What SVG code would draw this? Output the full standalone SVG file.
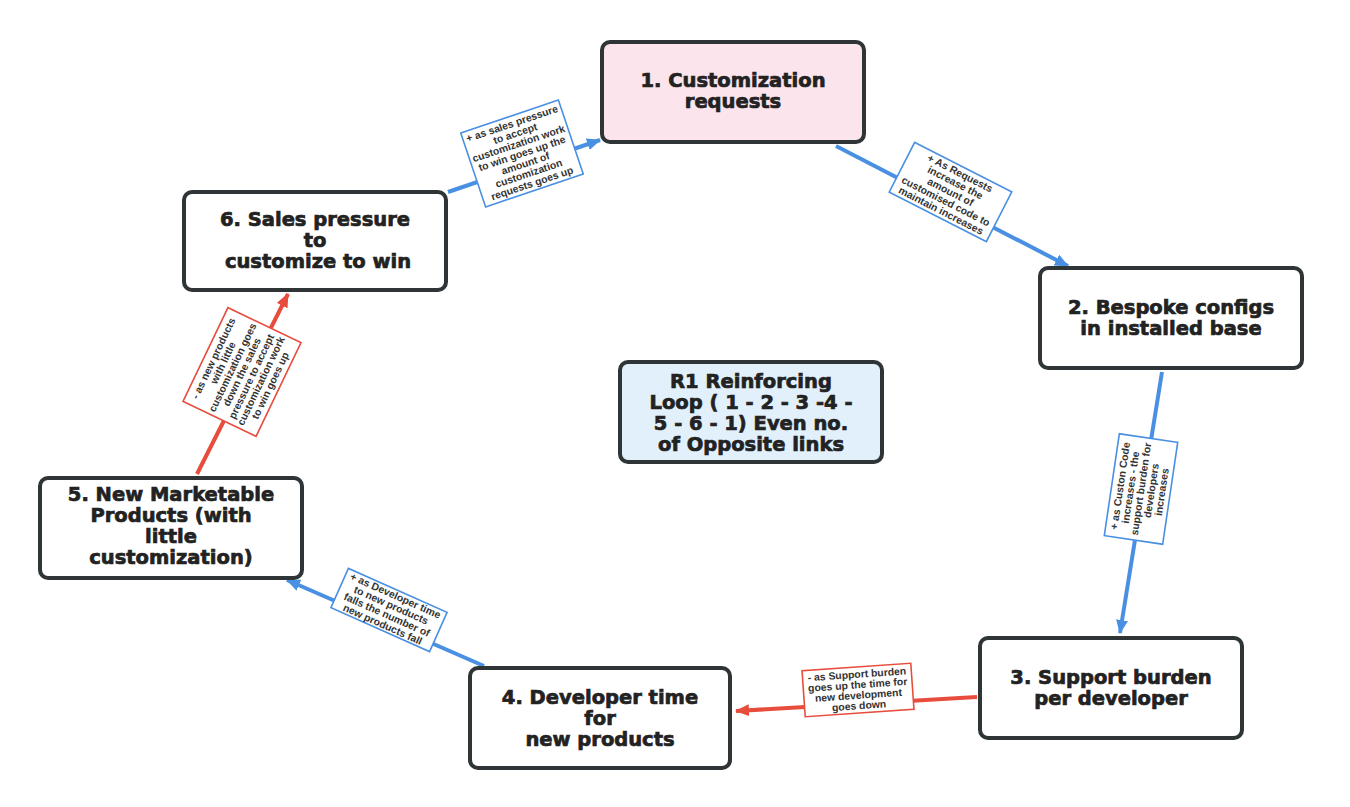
<svg xmlns="http://www.w3.org/2000/svg" width="1350" height="807" viewBox="0 0 1350 807">
<defs>
<style>
.node{fill:#ffffff;stroke:#2f3437;stroke-width:4}
.nt{font-family:"DejaVu Sans","Liberation Sans",sans-serif;font-weight:bold;font-size:19.5px;fill:#222;stroke:#222;stroke-width:0.7;text-anchor:middle}
.lb{fill:#ffffff;stroke-width:1.6}
.lbb{stroke:#4a90e2}
.lbr{stroke:#e74c3c}
.lt{font-family:"Liberation Sans",Arial,sans-serif;font-weight:bold;font-size:10.4px;fill:#333;text-anchor:middle}
.cb{stroke:#4a90e2;stroke-width:4;fill:none}
.cr{stroke:#e74c3c;stroke-width:4;fill:none}
</style>
<marker id="ab" markerUnits="userSpaceOnUse" markerWidth="14" markerHeight="12" refX="13" refY="6" orient="auto"><path d="M0,0 L14,6 L0,12 z" fill="#4a90e2"/></marker>
<marker id="ar" markerUnits="userSpaceOnUse" markerWidth="14" markerHeight="12" refX="13" refY="6" orient="auto"><path d="M0,0 L14,6 L0,12 z" fill="#e74c3c"/></marker>
</defs>
<rect width="1350" height="807" fill="#ffffff"/>
<g id="connectors">
<line class="cb" x1="836" y1="146" x2="1068" y2="266" marker-end="url(#ab)"/>
<line class="cb" x1="1162" y1="372" x2="1120" y2="633" marker-end="url(#ab)"/>
<line class="cr" x1="977" y1="697" x2="736" y2="711" marker-end="url(#ar)"/>
<line class="cb" x1="484" y1="666" x2="287" y2="580" marker-end="url(#ab)"/>
<line class="cr" x1="197" y1="474" x2="288" y2="294" marker-end="url(#ar)"/>
<line class="cb" x1="448" y1="192" x2="600" y2="140" marker-end="url(#ab)"/>
</g>
<g id="labels">
<g id="l61" transform="translate(522,153.5) rotate(-18.6)">
<rect class="lb lbb" x="-51.5" y="-39" width="103" height="78"/>
<text class="lt" y="-28"><tspan x="0">+ as sales pressure</tspan><tspan x="0" dy="10.5">to accept</tspan><tspan x="0" dy="10.5">customization work</tspan><tspan x="0" dy="10.5">to win goes up the</tspan><tspan x="0" dy="10.5">amount of</tspan><tspan x="0" dy="10.5">customization</tspan><tspan x="0" dy="10.5">requests goes up</tspan></text>
</g>
<g id="l12" transform="translate(950.5,192) rotate(27)">
<rect class="lb lbb" x="-54.5" y="-28" width="109" height="56"/>
<text class="lt" y="-17.5"><tspan x="0">+ As Requests</tspan><tspan x="0" dy="10.5">increase the</tspan><tspan x="0" dy="10.5">amount of</tspan><tspan x="0" dy="10.5">customised code to</tspan><tspan x="0" dy="10.5">maintain increases</tspan></text>
</g>
<g id="l23" transform="translate(1141,489) rotate(-81.6)">
<rect class="lb lbb" x="-51.5" y="-29.5" width="103" height="59"/>
<text class="lt" y="-17.5"><tspan x="0">+ as Custon Code</tspan><tspan x="0" dy="10.5">increases - the</tspan><tspan x="0" dy="10.5">support burden for</tspan><tspan x="0" dy="10.5">developers</tspan><tspan x="0" dy="10.5">increases</tspan></text>
</g>
<g id="l34" transform="translate(858,690) rotate(-4)">
<rect class="lb lbr" x="-54.5" y="-23" width="109" height="46"/>
<text class="lt" y="-12.2"><tspan x="0">- as Support burden</tspan><tspan x="0" dy="10.5">goes up the time for</tspan><tspan x="0" dy="10.5">new development</tspan><tspan x="0" dy="10.5">goes down</tspan></text>
</g>
<g id="l45" transform="translate(389,610) rotate(24)">
<rect class="lb lbb" x="-54" y="-21.5" width="108" height="43"/>
<text class="lt" y="-12.2"><tspan x="0">+ as Developer time</tspan><tspan x="0" dy="10.5">to new products</tspan><tspan x="0" dy="10.5">falls the number of</tspan><tspan x="0" dy="10.5">new products fall</tspan></text>
</g>
<g id="l56" transform="translate(242,372) rotate(-64.4)">
<rect class="lb lbr" x="-52" y="-40.5" width="104" height="81"/>
<text class="lt" y="-28"><tspan x="0">- as new products</tspan><tspan x="0" dy="10.5">with little</tspan><tspan x="0" dy="10.5">customization goes</tspan><tspan x="0" dy="10.5">down the sales</tspan><tspan x="0" dy="10.5">pressure to accept</tspan><tspan x="0" dy="10.5">customization work</tspan><tspan x="0" dy="10.5">to win goes up</tspan></text>
</g>
</g>
<g id="node1">
<rect class="node" x="602" y="42" width="262" height="100" rx="8" style="fill:#fbe4ec"/>
<text class="nt" y="87"><tspan x="733">1. Customization</tspan><tspan x="733" dy="21">requests</tspan></text>
</g>
<g id="node2">
<rect class="node" x="1040" y="268" width="262" height="100" rx="8"/>
<text class="nt" y="314"><tspan x="1171">2. Bespoke configs</tspan><tspan x="1171" dy="21">in installed base</tspan></text>
</g>
<g id="node3">
<rect class="node" x="980" y="638" width="262" height="100" rx="8"/>
<text class="nt" y="684"><tspan x="1111">3. Support burden</tspan><tspan x="1111" dy="21">per developer</tspan></text>
</g>
<g id="node4">
<rect class="node" x="470" y="668" width="260" height="100" rx="8"/>
<text class="nt" y="704"><tspan x="600">4. Developer time</tspan><tspan x="600" dy="21">for</tspan><tspan x="600" dy="21">new products</tspan></text>
</g>
<g id="node5">
<rect class="node" x="40" y="478" width="262" height="100" rx="8"/>
<text class="nt" y="501"><tspan x="171">5. New Marketable</tspan><tspan x="171" dy="21">Products (with</tspan><tspan x="171" dy="21">little</tspan><tspan x="171" dy="21">customization)</tspan></text>
</g>
<g id="node6">
<rect class="node" x="184" y="192" width="262" height="98" rx="8"/>
<text class="nt" y="226"><tspan x="315">6. Sales pressure</tspan><tspan x="315" dy="21">to</tspan><tspan x="318" dy="21">customize to win</tspan></text>
</g>
<g id="r1">
<rect class="node" x="620" y="362" width="262" height="100" rx="8" style="fill:#e1f0fb"/>
<text class="nt" y="388"><tspan x="751">R1 Reinforcing</tspan><tspan x="751" dy="21">Loop ( 1 - 2 - 3 -4 -</tspan><tspan x="751" dy="21">5 - 6 - 1) Even no.</tspan><tspan x="751" dy="21">of Opposite links</tspan></text>
</g>
</svg>
